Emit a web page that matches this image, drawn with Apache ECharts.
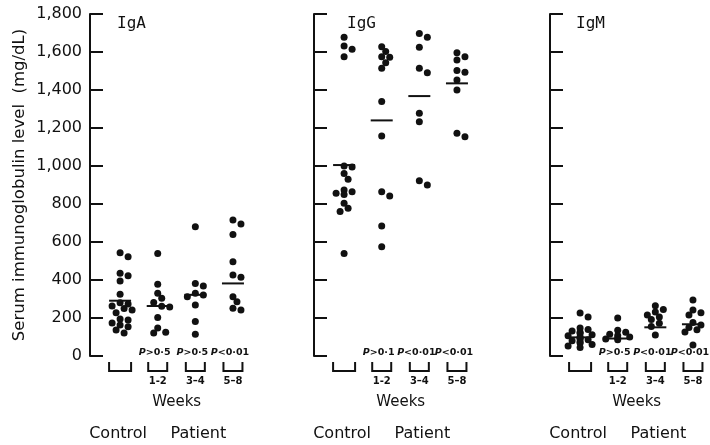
<!DOCTYPE html>
<html>
<head>
<meta charset="utf-8">
<script src="https://cdn.jsdelivr.net/npm/echarts@6/dist/echarts.min.js"></script>
<style>
  html, body { margin: 0; padding: 0; background: #fff; }
  #chart { width: 710px; height: 445px; }
</style>
</head>
<body>
<div id="chart"></div>
<script>
// values, mg/dL
const groups = ['Control', '1-2', '3-4', '5-8']
const weekLabels = ['', '1-2', '3–4', '5–8']
const yTicks = [0, 200, 400, 600, 800, 1000, 1200, 1400, 1600, 1800]

const igaControl = [544, 523, 435, 423, 395, 325, 280, 274, 263, 250, 242, 228, 195, 189, 174, 163, 154, 137, 121]
const igaW12 = [540, 377, 330, 304, 281, 262, 258, 202, 147, 125, 121]
const igaW34 = [680, 382, 368, 330, 321, 312, 268, 181, 114]
const igaW58 = [716, 695, 640, 496, 426, 414, 312, 286, 251, 242]
const igaMean = [291, 263, 322, 382]
const igaP = ['', 'P>0·5', 'P>0·5', 'P<0·01']

const iggControl = [1677, 1632, 1614, 1575, 1000, 995, 961, 930, 874, 865, 856, 850, 804, 777, 760, 540]
const iggW12 = [1628, 1602, 1575, 1572, 1544, 1514, 1339, 1158, 865, 842, 684, 575]
const iggW34 = [1698, 1677, 1625, 1514, 1491, 1277, 1233, 923, 900]
const iggW58 = [1596, 1575, 1558, 1502, 1493, 1453, 1400, 1172, 1154]
const iggMean = [1005, 1240, 1368, 1435]
const iggP = ['', 'P>0·1', 'P<0·01', 'P<0·01']

const igmControl = [226, 205, 147, 140, 132, 125, 118, 112, 106, 100, 95, 90, 85, 80, 74, 68, 60, 52, 45]
const igmW12 = [200, 135, 125, 115, 108, 100, 95, 90, 85]
const igmW34 = [265, 245, 232, 216, 205, 192, 172, 155, 110]
const igmW58 = [295, 242, 228, 216, 176, 163, 150, 138, 126, 58]
const igmMean = [98, 92, 151, 167]
const igmP = ['', 'P>0·5', 'P<0·01', 'P<0·01']

const panels = [
  { name: 'IgA', left: 90, sets: [igaControl, igaW12, igaW34, igaW58], mean: igaMean, p: igaP },
  { name: 'IgG', left: 314, sets: [iggControl, iggW12, iggW34, iggW58], mean: iggMean, p: iggP },
  { name: 'IgM', left: 550, sets: [igmControl, igmW12, igmW34, igmW58], mean: igmMean, p: igmP }
]

const TOP = 14
const HEIGHT = 342
const pxPerUnit = HEIGHT / 1800
const font = 'DejaVu Sans'

// spread overlapping dots sideways (simple beeswarm)
const swarm = (values) => {
  const placed = []
  const cands = [0, 4, -4, 8, -8, 12, -12]
  return values.map((v) => {
    const y = v * pxPerUnit
    const dx = cands.find((c) => placed.every((p) => Math.hypot(p[0] - c, p[1] - y) >= 6)) ?? 0
    placed.push([dx, y])
    return dx
  })
}

const grid = panels.map((p) => ({ left: p.left, top: TOP, height: HEIGHT, width: 158 }))

const xAxis = panels.map((p, i) => ({
  gridIndex: i,
  type: 'value',
  min: -0.8,
  max: 3.4,
  show: false
}))

const yAxis = panels.map((p, i) => ({
  gridIndex: i,
  type: 'value',
  min: 0,
  max: 1800,
  interval: 200,
  name: i === 0 ? 'Serum immunoglobulin level  (mg/dL)' : '',
  nameLocation: 'middle',
  nameGap: 62,
  nameTextStyle: { fontFamily: font, fontSize: 16.5, color: '#111', padding: [0, 0, 0, 0] },
  axisLine: { show: true, onZero: false, lineStyle: { color: '#111', width: 2 } },
  axisTick: { show: true, inside: true, length: 13, lineStyle: { color: '#111', width: 2 } },
  axisLabel: {
    show: i === 0,
    fontFamily: font,
    fontSize: 16,
    color: '#111',
    margin: 8,
    formatter: (v) => (yTicks.includes(v) ? v.toLocaleString('en-US') : '')
  },
  splitLine: { show: false }
}))

const series = []
panels.forEach((p, i) => {
  const dots = []
  p.sets.forEach((vals, g) => {
    const offs = swarm(vals)
    vals.forEach((v, k) => dots.push({ value: [g, v], symbolOffset: [offs[k], 0] }))
  })
  series.push({
    type: 'scatter',
    xAxisIndex: i,
    yAxisIndex: i,
    symbol: 'circle',
    symbolSize: 7,
    itemStyle: { color: '#111', opacity: 1 },
    data: dots,
    z: 3
  })
  series.push({
    type: 'scatter',
    xAxisIndex: i,
    yAxisIndex: i,
    symbol: 'rect',
    symbolSize: [22, 2],
    itemStyle: { color: '#111', opacity: 1 },
    data: p.mean.map((m, g) => [g, m]),
    z: 2
  })
  // brackets under the columns, P values, week labels, captions
  series.push({
    type: 'custom',
    xAxisIndex: i,
    yAxisIndex: i,
    clip: false,
    silent: true,
    data: groups.map((g, k) => [k, 0]),
    renderItem: (params, api) => {
      const k = api.value(0)
      const [x, y] = api.coord([k, 0])
      const hw = k === 0 ? 11 : 9.5
      const children = [{
        type: 'polyline',
        shape: { points: [[x - hw, y + 6], [x - hw, y + 15], [x + hw, y + 15], [x + hw, y + 6]] },
        style: { stroke: '#111', lineWidth: 2, fill: null }
      }]
      const text = (t, tx, ty, size, extra) => ({
        type: 'text',
        style: Object.assign({
          text: t, x: tx, y: ty, align: 'center', verticalAlign: 'middle',
          fontFamily: font, fontSize: size, fill: '#111'
        }, extra || {})
      })
      if (p.p[k]) {
        children.push(text(`{i|P}{b|${p.p[k].slice(1)}}`, x - 3, y - 3, 9.5, {
          rich: {
            i: { fontFamily: font, fontSize: 9.5, fontStyle: 'italic', fontWeight: 'bold', fill: '#111' },
            b: { fontFamily: font, fontSize: 9.5, fontWeight: 'bold', fill: '#111' }
          }
        }))
      }
      if (weekLabels[k]) children.push(text(weekLabels[k], x, y + 25, 10, { fontWeight: 'bold' }))
      if (k === 0) children.push(text('Control', x - 2, y + 78, 16))
      if (k === 1) children.push(text('Weeks', x + 19, y + 46, 15))
      if (k === 2) children.push(text('Patient', x + 3, y + 78, 16))
      return { type: 'group', children }
    }
  })
})

const chart = echarts.init(document.getElementById('chart'))
chart.setOption({
  backgroundColor: '#fff',
  animation: false,
  title: panels.map((p, i) => ({
    text: p.name,
    left: [112, 342, 571][i],
    top: 11,
    textStyle: { fontFamily: 'DejaVu Sans Mono', fontSize: 16, fontWeight: 'normal', color: '#111' }
  })),
  grid,
  xAxis,
  yAxis,
  series
})
</script>
</body>
</html>
